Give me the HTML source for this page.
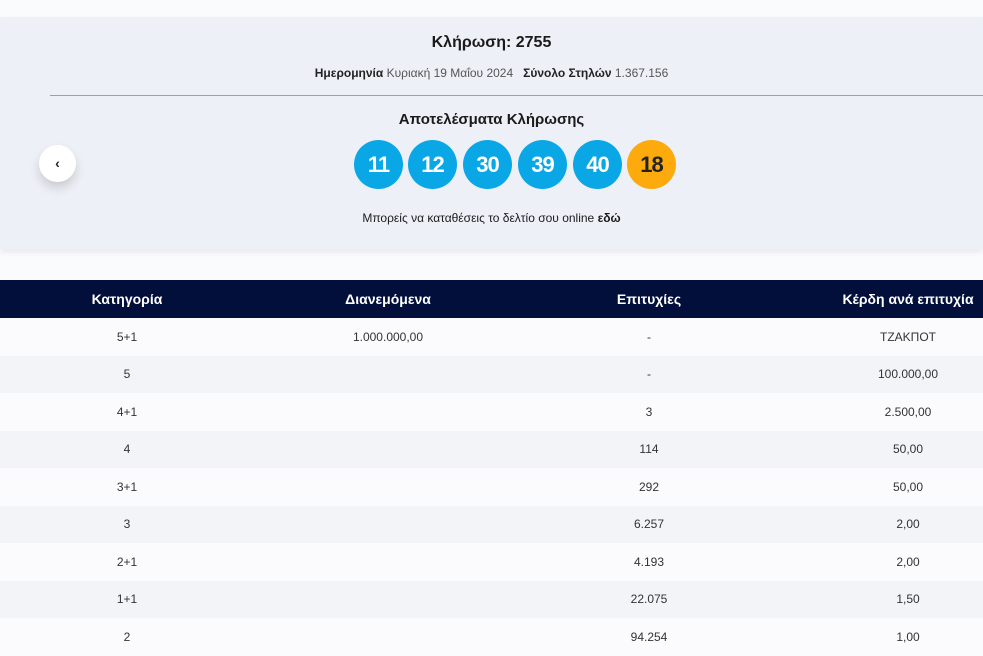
<!DOCTYPE html>
<html><head><meta charset="utf-8"><style>
body{margin:0;width:983px;height:653px;overflow:hidden;background:#fafbfd;font-family:"Liberation Sans",sans-serif;position:relative}
.panel{position:absolute;left:0;top:17px;width:983px;height:232px;background:#edf0f6;box-shadow:0 3px 6px rgba(0,0,0,0.08)}
.t{position:absolute;left:0;width:983px;text-align:center;color:#1a1a1a}
.line{position:absolute;left:50px;top:95px;width:933px;height:1px;background:#9aa0ad}
.ball{position:absolute;top:140px;width:49px;height:49px;border-radius:50%;background:#0aa7e6;color:#fff;font-weight:bold;font-size:22px;line-height:49px;text-align:center;letter-spacing:-1px}
.btn{position:absolute;left:39px;top:145px;width:37px;height:37px;border-radius:50%;background:#fff;box-shadow:0 6px 10px rgba(0,0,0,0.15);text-align:center;line-height:36px;font-size:14px;font-weight:bold;color:#222}
table{position:absolute;left:0;top:280px;width:1040px;border-collapse:collapse}
th{background:#020f3b;color:#fff;height:38px;font-size:14px;font-weight:bold;padding:0}
td{height:37.5px;padding:0;text-align:center;font-size:12px;color:#333}
tr:nth-child(odd) td{background:#f3f4f7}
tr:nth-child(even) td{background:#fbfbfd}
</style></head><body>
<div class="panel"></div>
<div class="t" style="top:34px;font-size:16px;font-weight:bold">Κλήρωση: 2755</div>
<div class="t" style="top:66px;font-size:12px;color:#555"><b style="color:#222">Ημερομηνία</b> Κυριακή 19 Μαΐου 2024 &nbsp; <b style="color:#222">Σύνολο Στηλών</b> 1.367.156</div>
<div class="line"></div>
<div class="t" style="top:111px;font-size:15px;font-weight:bold">Αποτελέσματα Κλήρωσης</div>
<div class="btn">‹</div>
<div class="ball" style="left:354px">11</div>
<div class="ball" style="left:408px">12</div>
<div class="ball" style="left:463px">30</div>
<div class="ball" style="left:518px">39</div>
<div class="ball" style="left:573px">40</div>
<div class="ball" style="left:627px;background:#fcaa0c;color:#222">18</div>
<div class="t" style="top:211px;font-size:12px">Μπορείς να καταθέσεις το δελτίο σου online <b>εδώ</b></div>
<table>
<tr><th style="width:254px">Κατηγορία</th><th style="width:268px">Διανεμόμενα</th><th style="width:254px">Επιτυχίες</th><th style="width:264px">Κέρδη ανά επιτυχία</th></tr>
<tr><td>5+1</td><td>1.000.000,00</td><td>-</td><td>ΤΖΑΚΠΟΤ</td></tr>
<tr><td>5</td><td></td><td>-</td><td>100.000,00</td></tr>
<tr><td>4+1</td><td></td><td>3</td><td>2.500,00</td></tr>
<tr><td>4</td><td></td><td>114</td><td>50,00</td></tr>
<tr><td>3+1</td><td></td><td>292</td><td>50,00</td></tr>
<tr><td>3</td><td></td><td>6.257</td><td>2,00</td></tr>
<tr><td>2+1</td><td></td><td>4.193</td><td>2,00</td></tr>
<tr><td>1+1</td><td></td><td>22.075</td><td>1,50</td></tr>
<tr><td>2</td><td></td><td>94.254</td><td>1,00</td></tr>
</table>
</body></html>
